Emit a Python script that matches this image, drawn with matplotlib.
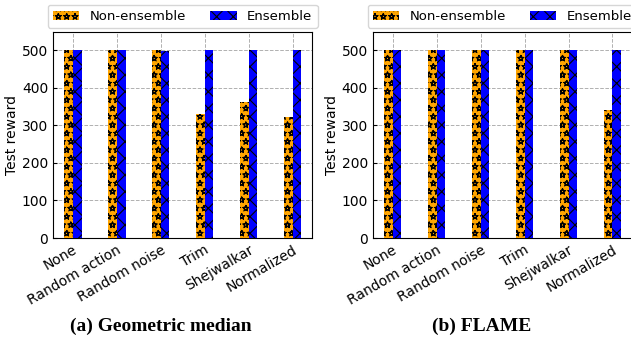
import matplotlib
matplotlib.use("Agg")
import matplotlib.pyplot as plt
from matplotlib import hatch as mhatch
import numpy as np

attacks = ["None", "Random action", "Random noise", "Trim", "Shejwalkar", "Normalized"]
gm_non_ens = [500, 500, 500, 330, 363, 322]
gm_ens = [500, 500, 498, 500, 500, 500]
flame_non_ens = [500, 500, 500, 500, 500, 341]
flame_ens = [500, 500, 500, 500, 500, 500]
captions = ["(a) Geometric median", "(b) FLAME"]

# hollow stars like the original
mhatch.Stars.filled = False
plt.rcParams["hatch.linewidth"] = 0.8

fig = plt.figure(figsize=(6.31, 3.41), dpi=100)
axes = [fig.add_axes([0.084, 0.302, 0.411, 0.604]),
        fig.add_axes([0.591, 0.302, 0.411, 0.604])]

x = np.arange(len(attacks))
w = 0.2
for ax, non, ens in zip(axes, [gm_non_ens, flame_non_ens], [gm_ens, flame_ens]):
    ax.bar(x - w / 2, non, w, color="orange", edgecolor="black", lw=0,
           hatch="**", label="Non-ensemble", zorder=3)
    ax.bar(x + w / 2, ens, w, color="blue", edgecolor="black", lw=0,
           hatch="xx", label="Ensemble", zorder=3)
    ax.set_xlim(-0.45, 5.45)
    ax.set_ylim(0, 548)
    ax.set_yticks([0, 100, 200, 300, 400, 500])
    ax.set_xticks(x)
    ax.set_xticklabels(attacks, rotation=30, ha="right", fontsize=10,
                       rotation_mode="anchor")
    ax.tick_params(axis="y", labelsize=10)
    ax.tick_params(direction="in", length=3)
    ax.set_ylabel("Test reward", fontsize=10, labelpad=2)
    ax.grid(True, ls="--", color="#b0b0b0", lw=0.7, zorder=0)
    ax.set_axisbelow(True)
    ax.legend(loc="lower center", bbox_to_anchor=(0.5, 1.0), ncol=2,
              fontsize=9.5, handlelength=2.0, columnspacing=1.8,
              borderaxespad=0.3)

for cx, txt in zip([0.255, 0.764], captions):
    fig.text(cx, 0.044, txt, ha="center", va="center", fontsize=14,
             fontweight="bold", family="Liberation Serif")

fig.savefig("out.png", dpi=100)
